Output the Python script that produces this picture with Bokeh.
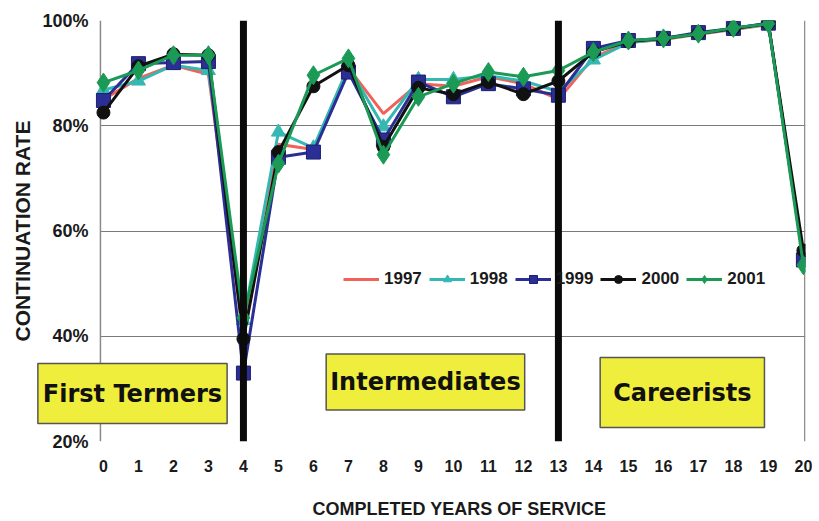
from bokeh.plotting import figure
from bokeh.models import Range1d, FixedTicker, PrintfTickFormatter, Span, Label, Legend, Title
from bokeh.embed import file_html
from bokeh.resources import INLINE

# ---- data ----
years = list(range(21))
x_ticks = list(range(21))
y_ticks = [20, 40, 60, 80, 100]

r1997 = [85.0, 89.0, 91.5, 89.8, 40.5, 76.5, 75.5, 91.0, 82.3, 88.0, 87.5, 89.3, 88.0, 85.0, 93.0, 95.8, 96.4, 97.4, 98.3, 99.2, 55.0]
r1998 = [86.8, 88.5, 91.5, 90.5, 43.0, 78.8, 75.8, 91.2, 79.8, 88.8, 88.8, 89.5, 88.5, 86.5, 92.5, 95.8, 96.5, 97.5, 98.4, 99.3, 54.8]
r1999 = [84.8, 91.8, 92.0, 92.2, 33.0, 74.0, 75.0, 90.2, 77.3, 88.3, 85.5, 88.0, 87.0, 85.8, 94.7, 96.2, 96.6, 97.7, 98.5, 99.5, 54.5]
r2000 = [82.5, 91.3, 93.6, 93.4, 39.5, 75.0, 87.5, 91.5, 76.0, 87.2, 86.0, 88.3, 86.0, 88.5, 94.0, 96.0, 96.6, 97.5, 98.5, 99.4, 56.3]
r2001 = [88.2, 90.5, 93.4, 93.4, 43.5, 72.8, 89.6, 92.8, 74.5, 85.5, 88.0, 90.2, 89.3, 90.5, 94.0, 96.2, 96.6, 97.5, 98.6, 99.4, 53.5]

series_names = ["1997", "1998", "1999", "2000", "2001"]
group_breaks = [4, 13]
groups = ["First Termers", "Intermediates", "Careerists"]
group_x = [0.83, 9.2, 16.54]
group_y = [29.1, 31.3, 29.3]

# ---- layout constants (styles/positions) ----
X_LO, X_HI = -1.97, 20.06      # frame extends left so the first label box is not clipped
BOX_LEFT = -0.086              # visible plot-area left edge
GRID_COLOR = "#7a7a7a"
BORDER_COLOR = "#8a8a8a"

p = figure(width=812, height=521, output_backend="svg", toolbar_location=None,
           x_range=Range1d(X_LO, X_HI), y_range=Range1d(20, 100),
           min_border_left=34, min_border_right=7, min_border_top=20, min_border_bottom=80)
p.background_fill_color = "white"
p.border_fill_color = "white"
p.outline_line_color = None

p.xgrid.grid_line_color = None
ygrid = p.ygrid[0]
ygrid.ticker = FixedTicker(ticks=y_ticks)
ygrid.grid_line_color = GRID_COLOR
ygrid.grid_line_width = 1
if "cross_bounds" in ygrid.properties():
    ygrid.cross_bounds = (BOX_LEFT, X_HI)
else:
    ygrid.grid_line_color = None
    p.segment(x0=BOX_LEFT, x1=X_HI, y0=y_ticks, y1=y_ticks, line_color=GRID_COLOR, line_width=1)

# plot-area left and right borders
p.add_layout(Span(location=BOX_LEFT, dimension="height", line_color=BORDER_COLOR, line_width=1.5, level="underlay"))
p.add_layout(Span(location=X_HI - 0.02, dimension="height", line_color=BORDER_COLOR, line_width=1.5, level="underlay"))

p.yaxis.ticker = FixedTicker(ticks=y_ticks)
p.yaxis.formatter = PrintfTickFormatter(format="%d%%")
p.xaxis.ticker = FixedTicker(ticks=x_ticks)

for ax in (p.xaxis[0], p.yaxis[0]):
    ax.axis_line_color = None
    ax.major_tick_line_color = None
    ax.minor_tick_line_color = None
    ax.major_label_text_font = "Liberation Sans"
    ax.major_label_text_font_style = "bold"
    ax.major_label_text_color = "#1a1a1a"
    ax.axis_label_text_font = "Liberation Sans"
    ax.axis_label_text_font_style = "bold"
    ax.axis_label_text_color = "#1a1a1a"

p.yaxis.major_tick_out = 0
p.yaxis.major_tick_in = 0
p.yaxis.major_label_text_font_size = "18px"
p.xaxis.major_label_text_font_size = "16px"
p.yaxis.major_label_standoff = -54
p.xaxis.major_label_standoff = 12
p.yaxis.axis_label = "CONTINUATION RATE"
p.yaxis.axis_label_text_font_size = "21px"
p.yaxis.axis_label_standoff = 5
# spacer below the tick labels so the title sits lower
p.xaxis.axis_label = " "
p.xaxis.axis_label_text_font_size = "2px"
p.xaxis.axis_label_standoff = 16

# x-axis title, centred under the visible plot area
p.add_layout(Title(text="COMPLETED YEARS OF SERVICE", align="left", offset=278,
                   text_font="Liberation Sans", text_font_style="bold", text_font_size="18px",
                   text_color="#1a1a1a", standoff=2), "below")

# ---- series ----
lw = 3
l97 = p.line(years, r1997, line_color="#f0625a", line_width=lw)
l98 = p.line(years, r1998, line_color="#35b8b2", line_width=lw)
m98 = p.scatter(years, r1998, marker="triangle", size=14, fill_color="#35b8b2", line_color="#35b8b2")
l99 = p.line(years, r1999, line_color="#2b2f95", line_width=lw)
m99 = p.scatter(years, r1999, marker="square", size=14, fill_color="#2b2f95", line_color="#1c1f70")
l00 = p.line(years, r2000, line_color="#111111", line_width=lw)
m00 = p.scatter(years, r2000, marker="circle", size=13, fill_color="#111111", line_color="#111111")
l01 = p.line(years, r2001, line_color="#1b9a55", line_width=lw)
m01 = p.scatter(years, r2001, marker="diamond", size=19, fill_color="#1b9a55", line_color="#1b9a55")

legend = Legend(items=[
    (series_names[0], [l97]),
    (series_names[1], [l98, m98]),
    (series_names[2], [l99, m99]),
    (series_names[3], [l00, m00]),
    (series_names[4], [l01, m01]),
], orientation="horizontal", location=(309, 152))
legend.background_fill_alpha = 0
legend.border_line_color = None
legend.padding = 0
legend.margin = 0
legend.spacing = 7
legend.glyph_width = 36
legend.glyph_height = 20
legend.label_standoff = 5
legend.label_text_font = "Liberation Sans"
legend.label_text_font_style = "bold"
legend.label_text_font_size = "17px"
legend.label_text_color = "#1a1a1a"
p.add_layout(legend, "center")

# ---- group dividers ----
for b in group_breaks:
    p.add_layout(Span(location=b, dimension="height", line_color="#0a0a0a", line_width=7))

# ---- group labels ----
pads = [dict(x=5, y=16), dict(x=4, y=14), dict(x=13, y=21)]
for name, gx, gy, pad in zip(groups, group_x, group_y, pads):
    p.add_layout(Label(x=gx, y=gy, text=name, text_align="center", text_baseline="middle",
                       text_font="DejaVu Sans", text_font_style="bold", text_font_size="24px",
                       text_color="#111111", background_fill_color="#f0ee3c",
                       border_line_color="#555555", border_line_width=1.5, padding=pad))

open("out.html", "w").write(file_html(p, INLINE))
